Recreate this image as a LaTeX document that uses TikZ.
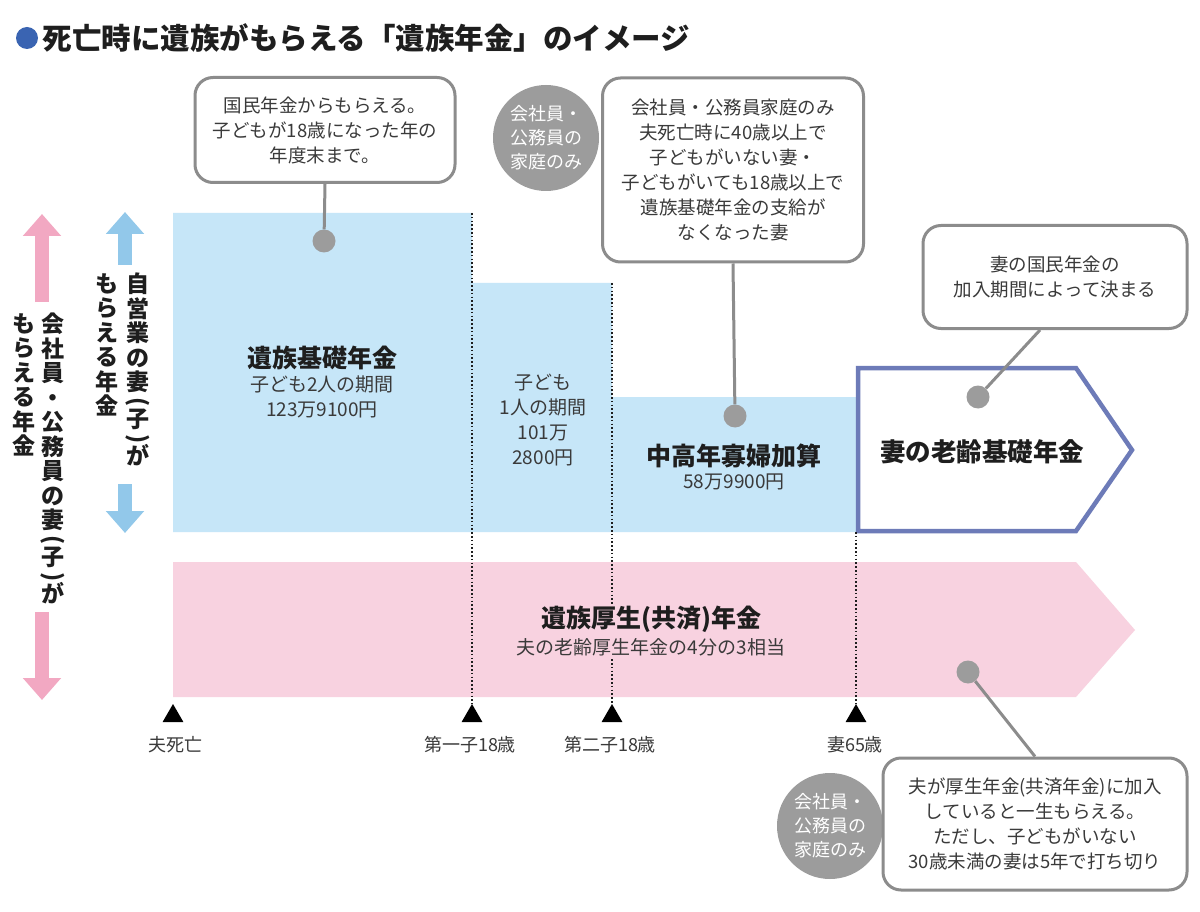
\documentclass[tikz,border=0pt]{standalone}
\usepackage{fontspec}
\usepackage{graphicx}
\setmainfont{Noto Sans CJK JP}
\usetikzlibrary{arrows.meta,calc,shapes.geometric}
\definecolor{bluefill}{HTML}{C6E6F8}
\definecolor{pinkfill}{HTML}{F8D2E0}
\definecolor{calloutgray}{HTML}{8C8C8C}
\definecolor{dotgray}{HTML}{9C9C9C}
\definecolor{outlineblue}{HTML}{6D7BB8}
\definecolor{arrowblue}{HTML}{92C8EA}
\definecolor{arrowpink}{HTML}{F2A8C2}
\definecolor{titleblue}{HTML}{3A64B2}
\definecolor{txt}{HTML}{3A3A3A}
\definecolor{txtdark}{HTML}{1E1E1E}
\newcommand\vchar[1]{\hbox to 24pt{\hss#1\hss}}
\newcommand\vparen[1]{\vskip-6.1pt\hbox to 24pt{\hss\rotatebox[origin=c]{-90}{#1}\hss}\vskip-6.1pt}
\newcommand\vstack[1]{\vbox{\baselineskip=24.5pt\lineskiplimit=-100pt\lineskip=0pt #1}}
\begin{document}
\begin{tikzpicture}[x=1pt,y=-1pt,
  callout/.style={draw=calloutgray, line width=3pt, rounded corners=18pt, fill=white,
    align=center, text=txt, font=\fontsize{18.5}{25}\selectfont, inner sep=0pt},
  badge/.style={circle, fill=dotgray, text=white, align=center, inner sep=0pt,
    minimum size=106pt, font=\fontsize{18}{24}\selectfont},
  dot/.style={circle, fill=dotgray, inner sep=0pt, minimum size=23pt},
  conn/.style={draw=calloutgray, line width=3pt},
  dotline/.style={draw=txtdark, line width=1.6pt, dash pattern=on 1.6pt off 2.2pt},
  marker/.style={regular polygon, regular polygon sides=3, fill=black, inner sep=0pt, minimum size=24pt},
  lbl/.style={text=txt, font=\fontsize{18}{22}\selectfont},
  heading/.style={text=txtdark, font=\bfseries\fontsize{25}{28}\selectfont},
  sub/.style={text=txt, align=center, font=\fontsize{19}{25}\selectfont},
  vcol/.style={anchor=north, inner sep=0pt, text=txtdark, font=\bfseries\fontsize{23}{24.5}\selectfont},
  bigarrow/.style={line width=14pt, -{Triangle[width=37pt,length=22pt]}}
]
\useasboundingbox (0,0) rectangle (1200,912);
\fill[white] (0,0) rectangle (1200,912);

% title
\node[circle, fill=titleblue, inner sep=0pt, minimum size=22pt] (tdot) at (27,38) {};
\node[anchor=west, text=txtdark, font=\bfseries\fontsize{29.5}{32}\selectfont] (title) at (39,38) {死亡時に遺族がもらえる「遺族年金」のイメージ};

% blue step area
\fill[bluefill] (173,213) -- (472,213) -- (472,283) -- (612,283) -- (612,397) -- (856,397) -- (856,532) -- (173,532) -- cycle;
% pink arrow
\fill[pinkfill] (173,562) -- (1076,562) -- (1135,630) -- (1076,697) -- (173,697) -- cycle;
% outlined arrow
\draw[outlineblue, line width=4.5pt, fill=white, line join=miter] (858,368) -- (1076,368) -- (1132,450) -- (1076,531) -- (858,531) -- cycle;

% markers
\node[marker] (m1) at (173,716) {};
\node[marker] (m2) at (472,716) {};
\node[marker] (m3) at (612,716) {};
\node[marker] (m4) at (856,716) {};
\coordinate (t2) at (472,213);
\coordinate (t3) at (612,283);
\coordinate (t4) at (856,532);
\draw[dotline] (t2) -- (m2.north);
\draw[dotline] (t3) -- (m3.north);
\draw[dotline] (t4) -- (m4.north);
\node[lbl] (l1) at (175,745) {夫死亡};
\node[lbl] (l2) at (470,745) {第一子18歳};
\node[lbl] (l3) at (610,745) {第二子18歳};
\node[lbl] (l4) at (855,745) {妻65歳};

% blue texts
\node[heading] (kiso) at (322,358) {遺族基礎年金};
\node[sub] (kiso2) at (322,397) {子ども2人の期間\\123万9100円};
\node[sub] (one) at (543,420) {子ども\\1人の期間\\101万\\2800円};
\node[heading] (chuko) at (734,456) {中高年寡婦加算};
\node[sub] (chuko2) at (734,482) {58万9900円};
\node[heading, font=\bfseries\fontsize{25.5}{28}\selectfont] (rorei) at (982,452) {妻の老齢基礎年金};

% pink texts
\node[heading, fill=pinkfill, inner sep=2pt] (kosei) at (651,619) {遺族厚生(共済)年金};
\node[sub, fill=pinkfill, inner sep=2pt] (kosei2) at (651,647) {夫の老齢厚生年金の4分の3相当};

% left arrows and vertical labels
\coordinate (ba1s) at (125,265); \coordinate (ba1e) at (125,212);
\coordinate (ba2s) at (125,484); \coordinate (ba2e) at (125,533);
\coordinate (pa1s) at (42,302); \coordinate (pa1e) at (42,214);
\coordinate (pa2s) at (42,612); \coordinate (pa2e) at (42,700);
\draw[bigarrow, arrowblue] (ba1s) -- (ba1e);
\draw[bigarrow, arrowblue] (ba2s) -- (ba2e);
\draw[bigarrow, arrowpink] (pa1s) -- (pa1e);
\draw[bigarrow, arrowpink] (pa2s) -- (pa2e);
\node[vcol] (v1) at (138,273) {\vstack{\vchar{自}\vchar{営}\vchar{業}\vchar{の}\vchar{妻}\vparen{(}\vchar{子}\vparen{)}\vchar{が}}};
\node[vcol] (v2) at (107,273) {\vstack{\vchar{も}\vchar{ら}\vchar{え}\vchar{る}\vchar{年}\vchar{金}}};
\node[vcol] (v3) at (53,313) {\vstack{\vchar{会}\vchar{社}\vchar{員}\vchar{・}\vchar{公}\vchar{務}\vchar{員}\vchar{の}\vchar{妻}\vparen{(}\vchar{子}\vparen{)}\vchar{が}}};
\node[vcol] (v4) at (24,313) {\vstack{\vchar{も}\vchar{ら}\vchar{え}\vchar{る}\vchar{年}\vchar{金}}};

% callout 1
\node[callout, minimum width=260pt, minimum height=105pt] (c1) at (325,130) {国民年金からもらえる。\\子どもが18歳になった年の\\年度末まで。};
\node[dot] (d1) at (324,241) {};
\draw[conn] (c1.south) -- (d1);

% callout 2
\node[badge] (b2) at (546,138) {会社員・\\公務員の\\家庭のみ};
\node[callout, minimum width=261pt, minimum height=184pt] (c2) at (733,170) {会社員・公務員家庭のみ\\夫死亡時に40歳以上で\\子どもがいない妻・\\子どもがいても18歳以上で\\遺族基礎年金の支給が\\なくなった妻};
\node[dot] (d2) at (735,416) {};
\draw[conn] (c2.south) -- (d2);

% callout 3
\node[callout, minimum width=264pt, minimum height=103pt] (c3) at (1055,277) {妻の国民年金の\\加入期間によって決まる};
\node[dot] (d3) at (978,397) {};
\draw[conn] ($(c3.south)+(-15,0)$) -- (d3);

% callout 4
\node[badge] (b4) at (830,826) {会社員・\\公務員の\\家庭のみ};
\node[callout, minimum width=304pt, minimum height=132pt] (c4) at (1035,824) {夫が厚生年金(共済年金)に加入\\していると一生もらえる。\\ただし、子どもがいない\\30歳未満の妻は5年で打ち切り};
\node[dot] (d4) at (968,672) {};
\draw[conn] (d4) -- (c4.north);
\end{tikzpicture}
\end{document}
